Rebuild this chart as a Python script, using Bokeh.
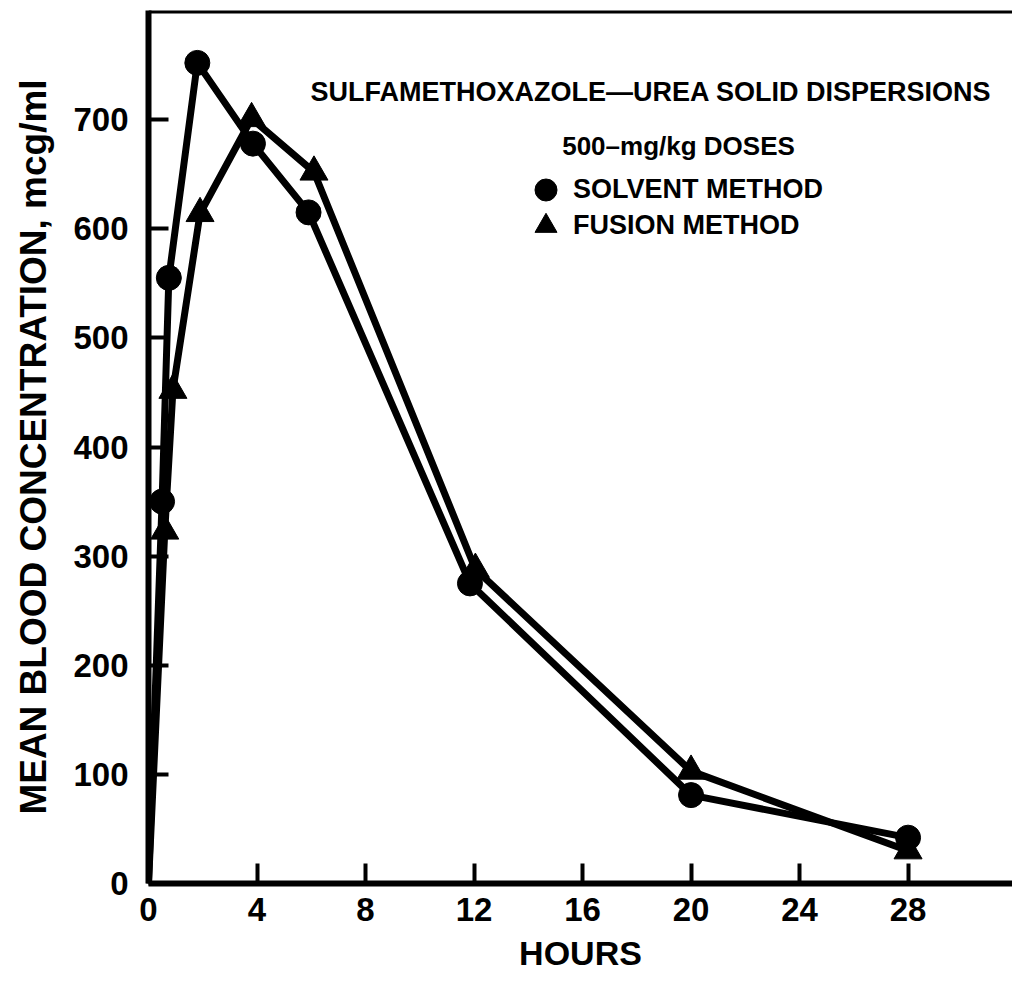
from bokeh.plotting import figure
from bokeh.models import Label, Legend, LegendItem, Span, FixedTicker
from bokeh.embed import file_html
from bokeh.resources import INLINE

# Mean blood concentration (mcg/ml) after 500 mg/kg doses
solvent_hours = [0, 0.5, 0.75, 1.8, 3.85, 5.9, 11.85, 20.0, 28.0]
solvent_conc = [0, 350, 555, 752, 678, 615, 275, 81, 42]

fusion_hours = [0, 0.6, 0.9, 1.9, 3.8, 6.1, 12.05, 20.0, 28.0]
fusion_conc = [0, 323, 452, 614, 701, 652, 288, 103, 30]

x_ticks = [0, 4, 8, 12, 16, 20, 24, 28]
y_ticks = [0, 100, 200, 300, 400, 500, 600, 700]

title_text = "SULFAMETHOXAZOLE\u2014UREA SOLID DISPERSIONS"
dose_text = "500\u2013mg/kg DOSES"
series_names = ["SOLVENT METHOD", "FUSION METHOD"]

FONT = "Liberation Sans"
INK = "#000000"

p = figure(
    width=1012, height=981,
    x_range=(0, 31.85), y_range=(0, 800),
    output_backend="svg", toolbar_location=None,
    min_border_left=148, min_border_right=0,
    min_border_top=10, min_border_bottom=98,
    background_fill_color="white", border_fill_color="white",
)
p.outline_line_color = None
p.grid.visible = False

# axes: heavy lines, ticks pointing into the plot
for ax in (p.xaxis[0], p.yaxis[0]):
    ax.axis_line_width = 6
    ax.axis_line_color = INK
    ax.major_tick_in = 20
    ax.major_tick_out = 0
    ax.major_tick_line_width = 4
    ax.major_tick_line_color = INK
    ax.minor_tick_line_color = None
    ax.major_label_text_font = FONT
    ax.major_label_text_font_style = "bold"
    ax.major_label_text_font_size = "33px"
    ax.major_label_text_color = INK
    ax.axis_label_text_font = FONT
    ax.axis_label_text_font_style = "bold"
    ax.axis_label_text_color = INK

p.xaxis.ticker = FixedTicker(ticks=x_ticks)
p.yaxis.ticker = FixedTicker(ticks=y_ticks)
p.xaxis.axis_label = "HOURS"
p.yaxis.axis_label = "MEAN BLOOD CONCENTRATION, mcg/ml"
p.xaxis.axis_label_text_font_size = "34px"
p.yaxis.axis_label_text_font_size = "37px"
p.xaxis.major_label_standoff = 14
p.yaxis.major_label_standoff = 20
p.xaxis.axis_label_standoff = 10
p.yaxis.axis_label_standoff = 16

# top border of the frame
p.add_layout(Span(location=800, dimension="width", line_color=INK, line_width=6))

# curves
p.line(solvent_hours, solvent_conc, line_color=INK, line_width=7, line_join="round")
p.line(fusion_hours, fusion_conc, line_color=INK, line_width=7, line_join="round")
solv_pts = p.scatter(solvent_hours[1:], solvent_conc[1:], marker="circle", size=25,
                     fill_color=INK, line_color=INK)
fus_pts = p.scatter(fusion_hours[1:], fusion_conc[1:], marker="triangle", size=28,
                    fill_color=INK, line_color=INK)

# caption text
p.add_layout(Label(x=5.97, y=725, text=title_text, text_font=FONT,
                   text_font_style="bold", text_font_size="27px", text_color=INK,
                   text_baseline="alphabetic"))
p.add_layout(Label(x=15.25, y=676, text=dose_text, text_font=FONT,
                   text_font_style="bold", text_font_size="26px", text_color=INK,
                   text_baseline="alphabetic"))

# one key per series so both rows sit close together with large symbols
legend_style = dict(
    glyph_width=55, glyph_height=55,
    padding=0, margin=0, label_standoff=0,
    border_line_color=None, background_fill_alpha=0,
    label_text_font=FONT, label_text_font_style="bold",
    label_text_font_size="27px", label_text_color=INK,
)
p.add_layout(Legend(items=[LegendItem(label=series_names[0], renderers=[solv_pts])],
                    location=(370, 666), **legend_style))
p.add_layout(Legend(items=[LegendItem(label=series_names[1], renderers=[fus_pts])],
                    location=(370, 630), **legend_style))

open("out.html", "w").write(file_html(p, INLINE))
